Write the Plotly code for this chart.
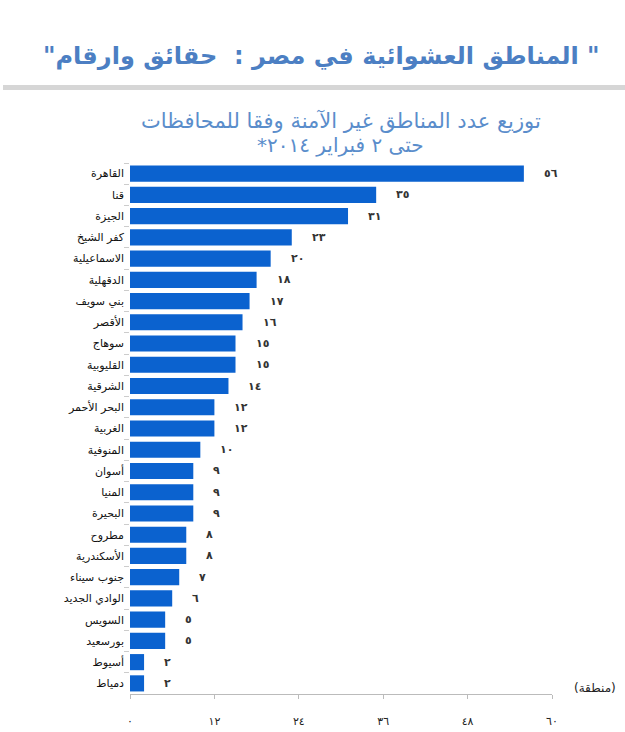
import plotly.graph_objects as go

governorates = ["القاهرة", "قنا", "الجيزة", "كفر الشيخ", "الاسماعيلية", "الدقهلية",
                "بني سويف", "الأقصر", "سوهاج", "القليوبية", "الشرقية", "البحر الأحمر",
                "الغربية", "المنوفية", "أسوان", "المنيا", "البحيرة", "مطروح",
                "الأسكندرية", "جنوب سيناء", "الوادي الجديد", "السويس", "بورسعيد",
                "أسيوط", "دمياط"]
areas = [56, 35, 31, 23, 20, 18, 17, 16, 15, 15, 14, 12, 12, 10, 9, 9, 9, 8, 8, 7, 6, 5, 5, 2, 2]
tick_values = [0, 12, 24, 36, 48, 60]
tick_labels = ["٠", "١٢", "٢٤", "٣٦", "٤٨", "٦٠"]

AR = str.maketrans("0123456789", "٠١٢٣٤٥٦٧٨٩")
RLM = "\u200f"

fig = go.Figure(go.Bar(
    x=areas, y=governorates, orientation="h",
    marker=dict(color="#0b62cf", line=dict(width=0)),
    hoverinfo="x+y",
))

annotations = []
for g, v in zip(governorates, areas):
    annotations.append(dict(x=v, y=g, xref="x", yref="y", text="<b>" + str(v).translate(AR) + "</b>",
                            showarrow=False, xanchor="left", xshift=18,
                            font=dict(family="DejaVu Sans", size=11, color="#333")))

annotations += [
    dict(x=0.515, y=56, text='<b>"المناطق العشوائية في مصر :  حقائق وارقام "</b>',
         showarrow=False, xanchor="center", yanchor="middle",
         font=dict(family="DejaVu Sans", size=24, color="#4c7fc3")),
    dict(x=0.545, y=121, text="توزيع عدد المناطق غير الآمنة وفقا للمحافظات", showarrow=False,
         xanchor="center", yanchor="middle", font=dict(family="DejaVu Sans", size=21, color="#5a8dcb")),
    dict(x=0.545, y=145, text="حتى ٢ فبراير ٢٠١٤*" + RLM, showarrow=False,
         xanchor="center", yanchor="middle", font=dict(family="DejaVu Sans", size=20, color="#5a8dcb")),
    dict(x=595, y=688, text="(منطقة)", showarrow=False, xanchor="center", yanchor="middle",
         font=dict(family="DejaVu Sans", size=12, color="#222")),
]
W, H = 625, 732
ml, mr, mt, mb = 130, 73, 163, 38
pw, ph = W - ml - mr, H - mt - mb
fixed = []
for a in annotations:
    if a.get("xref") == "x":
        fixed.append(a)
        continue
    px = a["x"] * W if a["x"] <= 1 else a["x"]
    py = a["y"]
    a["xref"] = "paper"; a["yref"] = "paper"
    a["x"] = (px - ml) / pw
    a["y"] = (H - mb - py) / ph
    fixed.append(a)

fig.update_layout(
    width=W, height=H,
    margin=dict(l=ml, r=mr, t=mt, b=mb, autoexpand=False),
    paper_bgcolor="white", plot_bgcolor="white",
    showlegend=False,
    bargap=0.24,
    annotations=fixed,
    shapes=[dict(type="rect", xref="paper", yref="paper",
                 x0=(3 - ml) / pw, x1=(625 - ml) / pw,
                 y0=(H - mb - 90) / ph, y1=(H - mb - 85) / ph,
                 fillcolor="#d6d6d6", line=dict(width=0))],
    xaxis=dict(range=[0, 60], tickvals=tick_values, ticktext=tick_labels, automargin=False,
               showgrid=False, zeroline=False, showline=True, linecolor="#bbbbbb", linewidth=1,
               ticks="outside", ticklen=4, tickcolor="#bbbbbb", ticklabelstandoff=13,
               tickfont=dict(family="DejaVu Sans", size=11, color="#222")),
    yaxis=dict(autorange="reversed", showgrid=False, showline=False, automargin=False,
               ticks="outside", tickson="boundaries", ticklen=5, tickcolor="#cccccc",
               ticklabelstandoff=5,
               tickfont=dict(family="DejaVu Sans", size=11, color="#111")),
)

fig.write_html("out.html")
